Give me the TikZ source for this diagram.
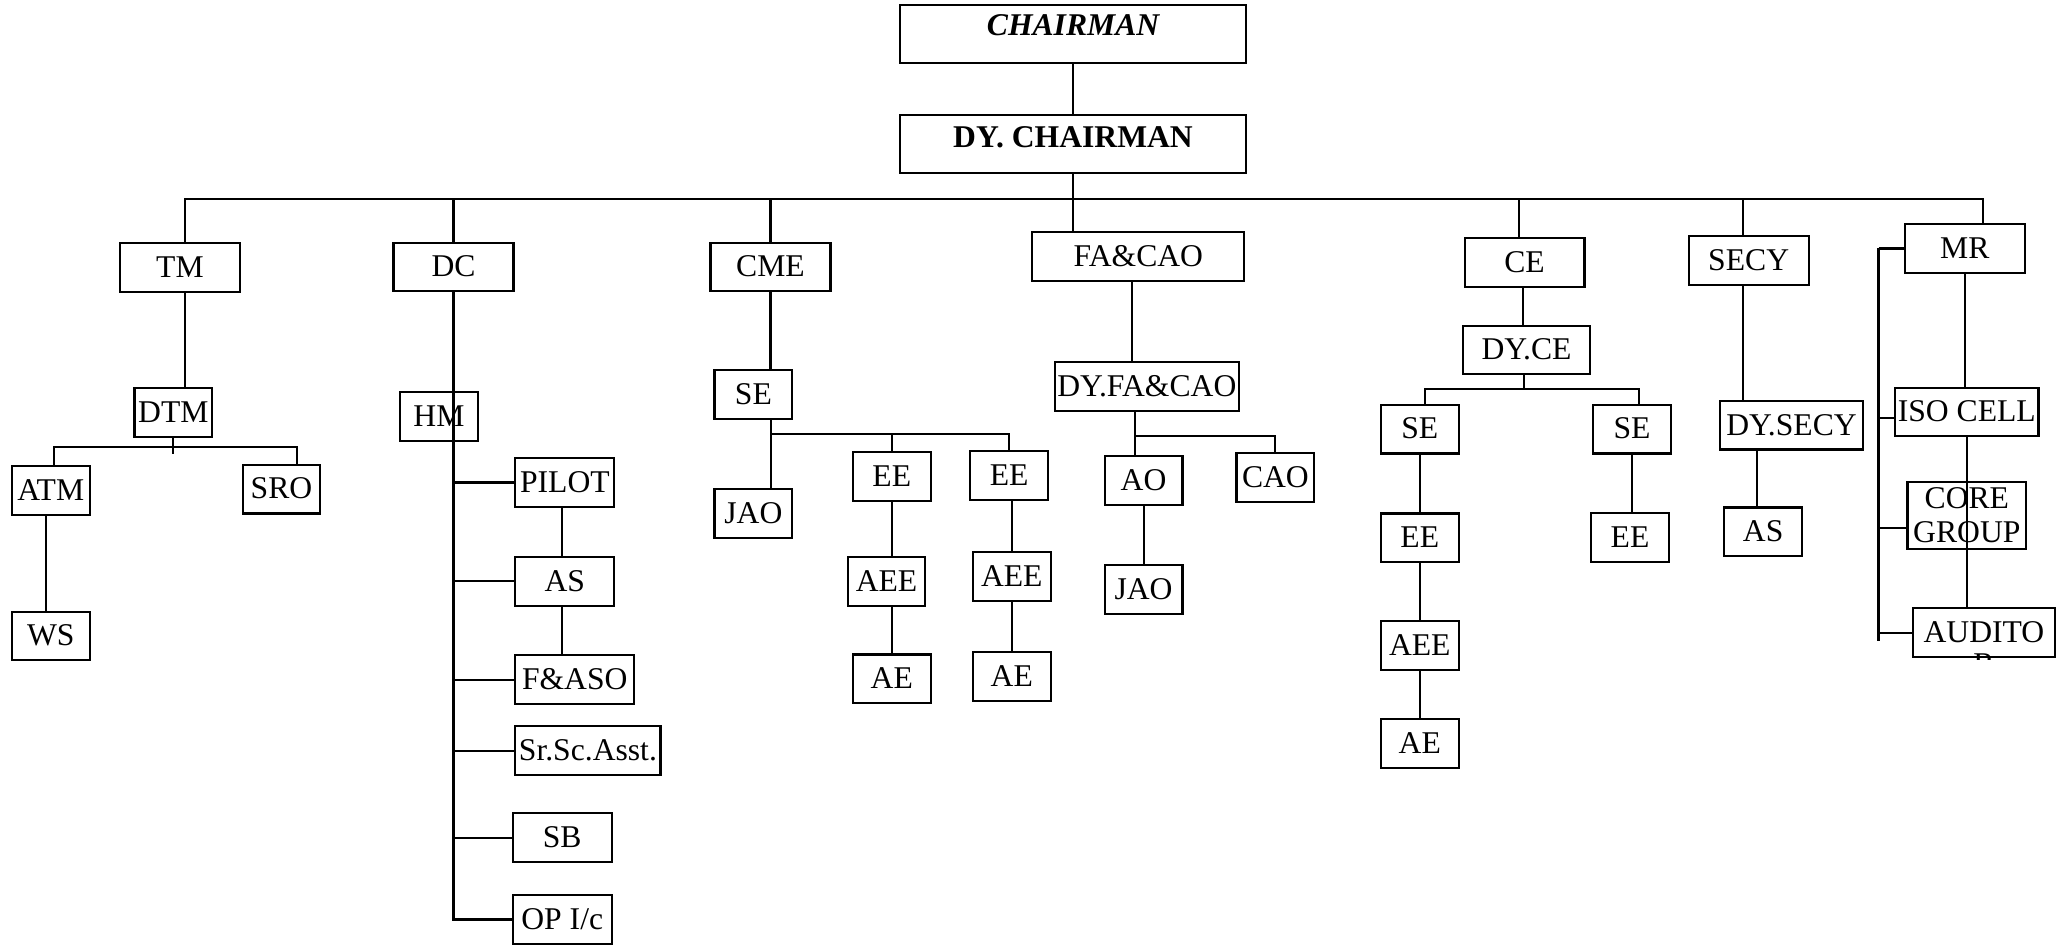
\documentclass[tikz,border=0pt]{standalone}
\usepackage{fontspec}
\setmainfont{Liberation Serif}

\begin{document}
\begin{tikzpicture}[x=0.5pt, y=-0.5pt, line width=0.8pt,
        box/.style={rectangle, draw=black, line width=0.8pt, inner xsep=1pt, inner ysep=0pt, minimum height=18.5pt, font=\fontsize{12}{12}\selectfont},
        post/.style={box, text height=8.5pt, text depth=1pt},
        small/.style={post, minimum width=29.5pt},
        medium/.style={post, minimum width=37.5pt},
        head/.style={post, minimum width=45.5pt},
        top/.style={box, minimum width=131pt, inner ysep=2.5pt},
    ]
    \useasboundingbox (0,0) rectangle (1568,717);

    \node[top, text height=9pt, text depth=8pt, font=\fontsize{12}{12}\selectfont\bfseries\itshape] (chair) at (814,26) {CHAIRMAN};
    \node[top, text height=10pt, text depth=7pt, font=\fontsize{12}{12}\selectfont\bfseries] (dychair) at (814,109) {DY. CHAIRMAN};

    % heads of departments
    \node[head] (tm) at (136.5,203) {TM};
    \node[head] (dc) at (344,202.5) {DC};
    \node[head] (cme) at (584.5,202.5) {CME};
    \node[post, minimum width=80.5pt] (facao) at (863.5,194.5) {FA\&CAO};
    \node[head] (ce) at (1156.5,199) {CE};
    \node[head] (secy) at (1326.5,197.5) {SECY};
    \node[head] (mr) at (1490.5,188.5) {MR};

    % traffic
    \node[small] (dtm) at (131.5,313) {DTM};
    \node[small] (atm) at (38.5,372) {ATM};
    \node[small] (sro) at (213.5,371) {SRO};
    \node[small] (ws) at (38.5,482.5) {WS};

    % docks
    \node[small] (hm) at (333,316) {HM};
    \node[medium] (pilot) at (428.5,366) {PILOT};
    \node[medium] (hmas) at (428.5,441) {AS};
    \node[post, minimum width=45pt] (faso) at (436,515.5) {F\&ASO};
    \node[post, minimum width=55pt] (srsc) at (446,569.5) {Sr.Sc.Asst.};
    \node[medium] (sb) at (426.5,635.5) {SB};
    \node[medium] (opic) at (426.5,697.5) {OP I/c};

    % mechanical
    \node[small] (cmese) at (571.5,299.5) {SE};
    \node[small] (cmejao) at (571.5,389.5) {JAO};
    \node[small] (ee1) at (676.5,361.5) {EE};
    \node[small] (ee2) at (765.5,360.5) {EE};
    \node[small] (aee1) at (672.5,441) {AEE};
    \node[small] (aee2) at (767.5,437.5) {AEE};
    \node[small] (ae1) at (676.5,515) {AE};
    \node[small] (ae2) at (767.5,513) {AE};

    % finance
    \node[post, minimum width=70pt] (dyfacao) at (870,293) {DY.FA\&CAO};
    \node[small] (ao) at (867.5,364.5) {AO};
    \node[small] (cao) at (967.5,362) {CAO};
    \node[small] (fajao) at (867.5,447) {JAO};

    % civil
    \node[post, minimum width=48pt] (dyce) at (1158,265.5) {DY.CE};
    \node[small] (cese1) at (1077,325.5) {SE};
    \node[small] (cese2) at (1238,325.5) {SE};
    \node[small] (ceee1) at (1077,408) {EE};
    \node[small] (ceee2) at (1236.5,407.5) {EE};
    \node[small] (ceaee) at (1077,489.5) {AEE};
    \node[small] (ceae) at (1077,564) {AE};

    % secretary
    \node[post, minimum width=54pt] (dysecy) at (1359,322.5) {DY.SECY};
    \node[small] (secyas) at (1337.5,403.5) {AS};

    % management representative
    \node[post, minimum width=54pt] (iso) at (1492,312.5) {ISO CELL};
    \node[box, minimum width=45pt, minimum height=25.5pt, align=center, font=\fontsize{12}{13}\selectfont] (core) at (1492,391) {CORE\\GROUP};
    \node[post, minimum width=54pt] (aud) at (1505,480) {AUDITO};
    \begin{scope}
        \clip (1440,496) rectangle (1570,500.5);
        \node[inner sep=0pt, font=\fontsize{12}{12}\selectfont] (audr) at (1505,504) {R};
    \end{scope}

    % top lines
    \draw (chair) -- (dychair);
    \coordinate (bus) at (814,151);
    \draw (dychair.south) -- (dychair.south |- facao.north);
    \draw ([xshift=1.75pt]tm.north) |- (bus);
    \draw (bus) -| ([xshift=6.75pt]mr.north);
    \draw (dc.north) -- (dc.north |- bus);
    \draw (cme.north) -- (cme.north |- bus);
    \draw ([xshift=-2.25pt]ce.north) -- ([xshift=-2.25pt]ce.north |- bus);
    \draw ([xshift=-2.25pt]secy.north) -- ([xshift=-2.25pt]secy.north |- bus);

    % traffic lines
    \draw ([xshift=1.75pt]tm.south) -- ([xshift=1.75pt]tm.south |- dtm.north);
    \coordinate (dtmbar) at (131,339);
    \draw (dtm.south) -- ++(0,12);
    \draw ([xshift=1.25pt]atm.north) |- (dtmbar) -| ([xshift=5.75pt]sro.north);
    \draw ([xshift=-1.75pt]atm.south) -- ([xshift=-1.75pt]atm.south |- ws.north);

    % docks lines
    \draw (dc.south) |- (opic.west);
    \foreach \n in {pilot, hmas, faso, srsc, sb}
        \draw (dc.south |- \n.west) -- (\n.west);
    \draw ([xshift=-1.25pt]pilot.south) -- ([xshift=-1.25pt]hmas.north);
    \draw ([xshift=-1.25pt]hmas.south) -- ([xshift=-1.25pt]hmas.south |- faso.north);

    % mechanical lines
    \draw (cme.south) -- (cme.south |- cmese.north);
    \coordinate (sebar) at (585,329);
    \draw (sebar |- cmese.south) -- (sebar |- cmejao.north);
    \draw (sebar) -| (ee2.north);
    \draw (sebar -| ee1.north) -- (ee1.north);
    \draw (ee1.south) -- (ee1.south |- aee1.north);
    \draw (ee1.south |- aee1.south) -- (ee1.south |- ae1.north);
    \draw (aee2.north |- ee2.south) -- (aee2.north);
    \draw (aee2) -- (ae2);

    % finance lines
    \draw ([xshift=-2.25pt]facao.south) -- ([xshift=-2.25pt]facao.south |- dyfacao.north);
    \coordinate (fabar) at (861,331);
    \draw (fabar |- dyfacao.south) -- (fabar |- ao.north);
    \draw (fabar) -| (cao.north);
    \draw (ao) -- (fajao);

    % civil lines
    \draw ([xshift=-0.75pt]ce.south) -- ([xshift=-0.75pt]ce.south |- dyce.north);
    \coordinate (cebar) at (1156,295);
    \draw (cebar |- dyce.south) -- (cebar);
    \draw ([xshift=2pt]cese1.north) |- (cebar) -| ([xshift=2.5pt]cese2.north);
    \draw (cese1) -- (ceee1);
    \draw (ceee1) -- (ceaee);
    \draw (ceaee) -- (ceae);
    \draw (cese2.south) -- (cese2.south |- ceee2.north);

    % secretary lines
    \draw ([xshift=-2.25pt]secy.south) -- ([xshift=-2.25pt]secy.south |- dysecy.north);
    \draw ([xshift=-2.25pt]secyas.north |- dysecy.south) -- ([xshift=-2.25pt]secyas.north);

    % management representative lines
    \draw (mr.south) -- (mr.south |- iso.north);
    \draw (iso.south) -- (iso.south |- aud.north);
    \coordinate (mrbrk) at (1425,188.5);
    \draw (mrbrk) -- ++(0,297.5);
    \draw (mrbrk) -- (mr.west);
    \draw ([yshift=-2.25pt]iso.west) -- ([yshift=-2.25pt]iso.west -| mrbrk);
    \draw ([yshift=-4.75pt]core.west) -- ([yshift=-4.75pt]core.west -| mrbrk);
    \draw (aud.west) -- (aud.west -| mrbrk);
\end{tikzpicture}
\end{document}
